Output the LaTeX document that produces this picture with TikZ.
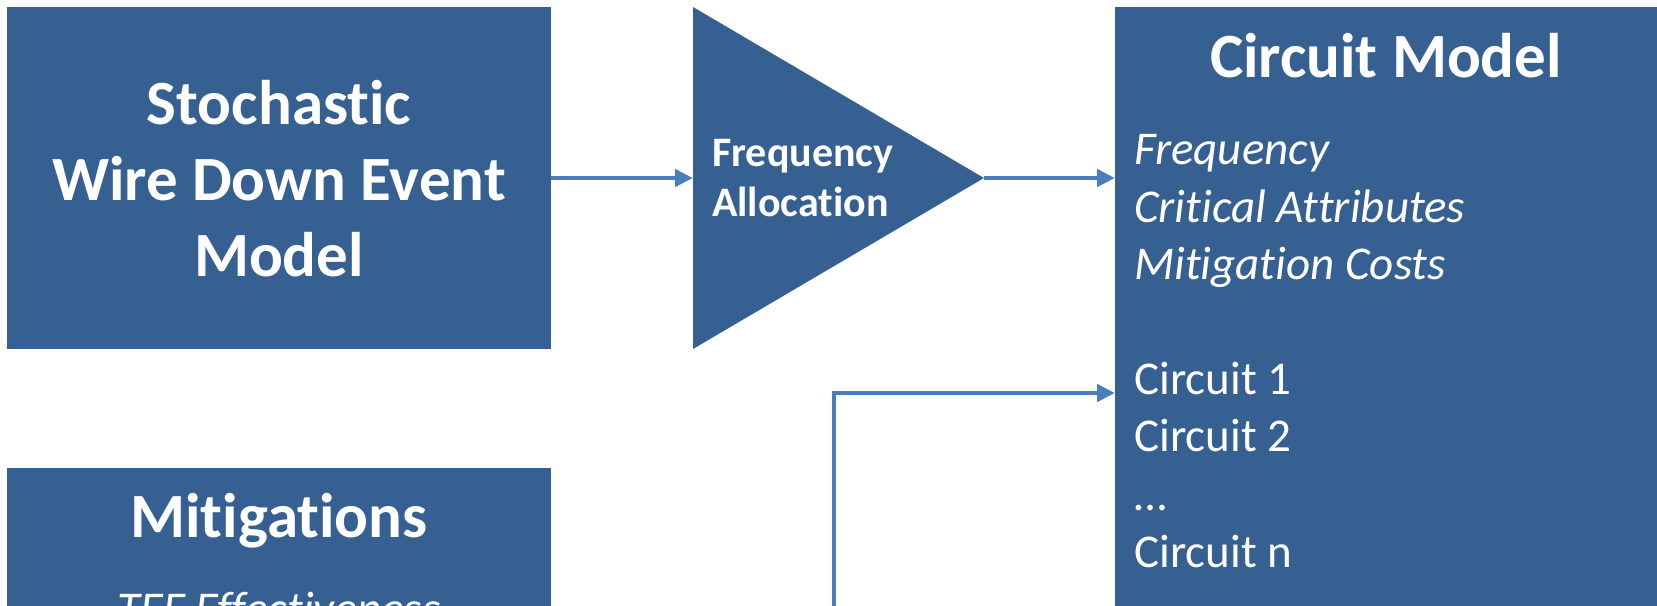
\documentclass[tikz,border=0pt]{standalone}
\usepackage{fontspec}
\setmainfont[Ligatures={NoCommon}]{Carlito}
\usetikzlibrary{arrows.meta}
\definecolor{boxblue}{RGB}{55,96,146}
\definecolor{lineblue}{RGB}{74,126,187}
\begin{document}
\begin{tikzpicture}[x=1pt,y=-1pt,
  blockbox/.style={fill=boxblue, draw=none, inner sep=0pt, anchor=north west},
  titletext/.style={text=white, font=\bfseries\fontsize{63}{76}\selectfont, inner sep=0pt, anchor=base},
  bodytext/.style={text=white, font=\fontsize{47}{57}\selectfont, inner sep=0pt, anchor=base west},
  italictext/.style={bodytext, font=\itshape\fontsize{47}{57}\selectfont},
  fatext/.style={text=white, font=\bfseries\fontsize{42}{50}\selectfont, inner sep=0pt, anchor=base west},
  conn/.style={draw=lineblue, line width=4.8pt, -{Triangle[length=18pt,width=17pt]}}]
\useasboundingbox (0,0) rectangle (1657,605);
\clip (0,0) rectangle (1657,605);
% boxes
\node[blockbox, minimum width=544pt, minimum height=342pt] (swd) at (7,7) {};
\node[blockbox, minimum width=544pt, minimum height=240pt] (mit) at (7,468) {};
\node[blockbox, minimum width=600pt, minimum height=700pt] (cm) at (1115,7) {};
% triangle
\fill[boxblue] (693,7) -- (984,178) -- (693,349) -- cycle;
\coordinate (triL) at (693,178);
\coordinate (triR) at (984,178);
% texts
\node[titletext] (t1) at (279,124) {Stochastic};
\node[titletext] (t2) at (279,200) {Wire Down Event};
\node[titletext] (t3) at (279,276) {Model};
\node[titletext] (mt) at (279,537) {Mitigations};
\node[italictext, anchor=base] (tef) at (279,624) {TEF Effectiveness};
\node[titletext] (cmt) at (1386,77) {Circuit Model};
\node[fatext] (fa1) at (712,166) {Frequency};
\node[fatext] (fa2) at (712,216) {Allocation};
\node[italictext] (b1) at (1134,164) {Frequency};
\node[italictext] (b2) at (1134,222) {Critical Attributes};
\node[italictext] (b3) at (1134,279) {Mitigation Costs};
\node[bodytext] (b4) at (1134,394) {Circuit 1};
\node[bodytext] (b5) at (1134,451) {Circuit 2};
\node[bodytext] (b6) at (1134,510) {…};
\node[bodytext] (b7) at (1134,567) {Circuit n};
% connectors
\coordinate (feed) at (834,640);
\coordinate (c1y) at (0,393);
\draw[conn] (swd.east |- triL) -- (triL);
\draw[conn] (triR) -- (cm.west |- triR);
\draw[conn] (feed) |- (cm.west |- c1y);
\end{tikzpicture}
\end{document}
